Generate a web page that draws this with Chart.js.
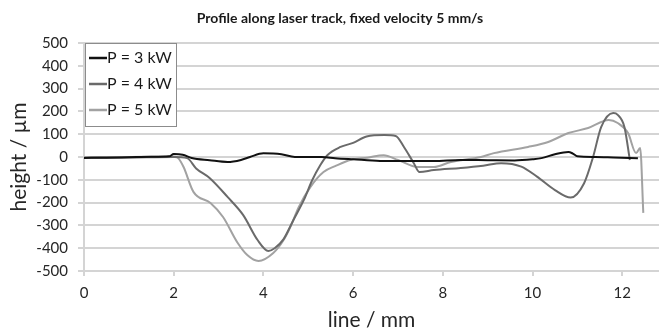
<!DOCTYPE html>
<html lang="en">
<head>
  <meta charset="UTF-8" />
  <title>Profile along laser track</title>
  <script src="https://cdn.jsdelivr.net/npm/chart.js"></script>
  <style>
    body { margin: 0; background: #fff; }
    #wrap { width: 659px; height: 331px; }
  </style>
</head>
<body>
  <div id="wrap"><canvas id="profileChart" width="659" height="331"></canvas></div>

  <script>
    // line position (mm) and height (µm), one pair per power
    const x3 = [0, 0.5, 1.0, 1.5, 1.9, 2.0, 2.2, 2.4, 2.8, 3.2, 3.5, 3.7, 4.0, 4.4, 4.7, 5.3, 5.6, 6.0, 6.6, 7.2, 7.8, 8.4, 9.0, 9.6, 10.0, 10.2, 10.5, 10.8, 10.9, 11.0, 11.4, 11.8, 12.35];
    const y3 = [-4, -3, -1, 1, 3, 13, 10, -4, -14, -22, -13, 0, 16, 12, 0, 0, -5, -10, -17, -18, -18, -13, -14, -15, -10, -5, 12, 22, 15, 3, 0, -2, -5];

    const x4 = [0, 1.0, 2.0, 2.3, 2.5, 2.8, 3.2, 3.55, 3.87, 4.11, 4.25, 4.45, 4.67, 4.9, 5.09, 5.27, 5.43, 5.72, 6.0, 6.3, 6.7, 6.95, 7.13, 7.35, 7.48, 7.8, 8.4, 8.9, 9.3, 9.75, 10.1, 10.5, 10.85, 11.15, 11.35, 11.53, 11.8, 11.9, 12.05, 12.17];
    const y4 = [-3, -2, 0, -5, -50, -92, -175, -255, -364, -412, -400, -360, -276, -189, -101, -35, 9, 44, 62, 90, 96, 92, 45, -26, -66, -57, -48, -38, -27, -42, -86, -145, -178, -115, 0, 131, 193, 185, 131, -13];

    const x5 = [0, 1.0, 2.0, 2.1, 2.22, 2.44, 2.82, 3.1, 3.42, 3.64, 3.89, 4.22, 4.45, 4.6, 4.79, 5.05, 5.34, 5.6, 5.95, 6.32, 6.68, 7.0, 7.44, 7.8, 8.18, 8.85, 9.14, 9.9, 10.35, 10.8, 11.24, 11.7, 11.9, 12.13, 12.31, 12.4, 12.47];
    const y5 = [-2, 0, 2, -5, -44, -153, -202, -263, -375, -430, -456, -421, -364, -307, -219, -131, -66, -40, -12, -3, 8, -13, -44, -44, -22, 0, 17, 44, 66, 105, 127, 162, 149, 105, 17, 40, -245];

    const seriesLabels = ['P = 3 kW', 'P = 4 kW', 'P = 5 kW'];
    const seriesColors = ['#111111', '#6a6a6a', '#a2a2a2'];
    const xTicks = [0, 2, 4, 6, 8, 10, 12];
    const titleText = 'Profile along laser track, fixed velocity 5 mm/s';
    const xTitle = 'line / mm';
    const yTitle = 'height / µm';

    const pairs = (xs, ys) => xs.map((x, i) => ({ x: x, y: ys[i] }));

    Chart.defaults.font.family = 'Lato, "Open Sans", sans-serif';
    Chart.defaults.color = '#262626';

    // chart title, placed like the original (not centred on the canvas)
    const topTitle = {
      id: 'topTitle',
      afterDraw(chart) {
        const ctx = chart.ctx;
        ctx.save();
        ctx.font = 'bold 14px Lato';
        ctx.fillStyle = '#1a1a1a';
        ctx.textAlign = 'center';
        ctx.textBaseline = 'middle';
        ctx.fillText(titleText, 340, 18);
        ctx.restore();
      }
    };

    // boxed legend sitting inside the top-left corner of the plot
    const boxLegend = {
      id: 'boxLegend',
      afterDraw(chart) {
        const ctx = chart.ctx;
        const a = chart.chartArea;
        const bx = a.left + 1, by = a.top, bw = 91, bh = 83;
        ctx.save();
        ctx.fillStyle = '#fff';
        ctx.fillRect(bx, by, bw, bh);
        ctx.strokeStyle = '#8c8c8c';
        ctx.lineWidth = 1;
        ctx.strokeRect(bx + 0.5, by + 0.5, bw, bh);
        ctx.font = '16px Lato';
        ctx.textBaseline = 'middle';
        chart.data.datasets.forEach((ds, i) => {
          const ry = by + 15 + i * 26;
          ctx.strokeStyle = ds.borderColor;
          ctx.lineWidth = 2.5;
          ctx.beginPath();
          ctx.moveTo(bx + 4, ry);
          ctx.lineTo(bx + 22, ry);
          ctx.stroke();
          ctx.fillStyle = '#1a1a1a';
          ctx.fillText(ds.label, bx + 22, ry);
        });
        ctx.restore();
      }
    };

    new Chart('profileChart', {
      type: 'scatter',
      data: {
        datasets: [
          { label: seriesLabels[0], data: pairs(x3, y3), borderColor: seriesColors[0] },
          { label: seriesLabels[1], data: pairs(x4, y4), borderColor: seriesColors[1] },
          { label: seriesLabels[2], data: pairs(x5, y5), borderColor: seriesColors[2] }
        ].map(d => Object.assign(d, {
          showLine: true, borderWidth: 2, pointRadius: 0, fill: false,
          cubicInterpolationMode: 'monotone'
        }))
      },
      options: {
        responsive: false,
        animation: false,
        layout: { padding: { top: 43, right: 0, left: 0, bottom: 0 } },
        plugins: {
          legend: { display: false },
          title: { display: false },
          tooltip: { enabled: false }
        },
        scales: {
          x: {
            type: 'linear',
            min: 0,
            max: 12.82,
            afterFit: s => { s.height = 60; },
            afterBuildTicks: s => { s.ticks = xTicks.map(v => ({ value: v })); },
            ticks: { padding: 8, font: { size: 15 }, maxRotation: 0 },
            grid: { drawOnChartArea: false, drawTicks: true, tickLength: 5, color: '#d4d4d4', lineWidth: 2 },
            border: { color: '#d4d4d4', width: 2 },
            title: { display: true, text: xTitle, font: { size: 21, lineHeight: 1 }, padding: { top: 0, bottom: 0 } }
          },
          y: {
            min: -500,
            max: 500,
            afterFit: s => { s.width = 84; },
            ticks: { stepSize: 100, padding: 10, font: { size: 15 } },
            grid: { color: '#d4d4d4', lineWidth: 2, tickLength: 6 },
            border: { color: '#d4d4d4', width: 2 },
            title: { display: true, text: yTitle, font: { size: 21, lineHeight: 1 }, padding: { top: 9, bottom: 0 } }
          }
        }
      },
      plugins: [topTitle, boxLegend]
    });
  </script>
</body>
</html>
